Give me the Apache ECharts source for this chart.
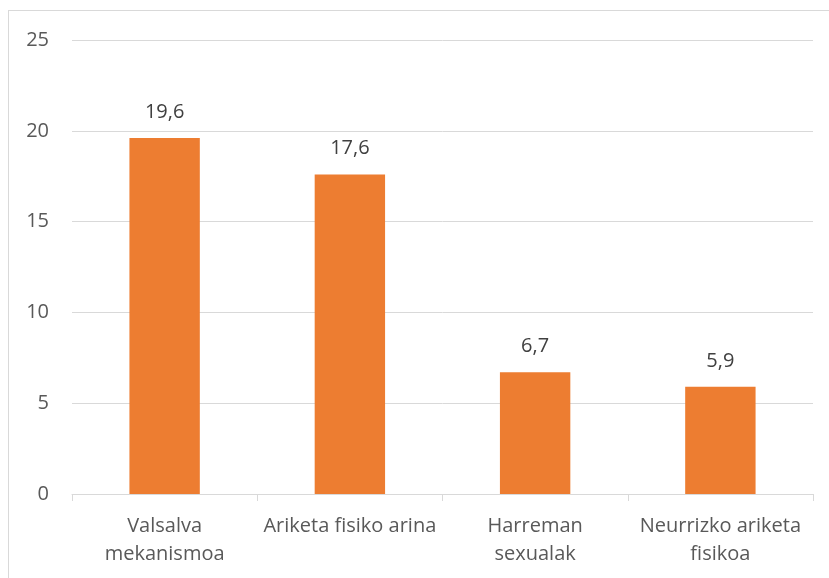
<!DOCTYPE html>
<html>
<head>
<meta charset="utf-8">
<script src="https://cdn.jsdelivr.net/npm/echarts@6/dist/echarts.min.js"></script>
<style>
  html, body { margin: 0; padding: 0; background: #fff; }
  #frame { position: absolute; left: 8px; top: 10px; width: 840px; height: 600px; border: 1px solid #d9d9d9; box-sizing: border-box; }
  #chart { position: absolute; left: 0; top: 0; width: 829px; height: 578px; }
</style>
</head>
<body>
<div id="frame"></div>
<div id="chart"></div>
<script>
// Categories (Basque) and their percentages
const categories = ['Valsalva\nmekanismoa', 'Ariketa fisiko arina', 'Harreman\nsexualak', 'Neurrizko ariketa\nfisikoa'];
const values = [19.6, 17.6, 6.7, 5.9];
const yTicks = [0, 5, 10, 15, 20, 25];

const chart = echarts.init(document.getElementById('chart'));
const font = 'Open Sans';
chart.setOption({
  animation: false,
  grid: { left: 72, right: 16, top: 40, bottom: 84, containLabel: false },
  xAxis: {
    type: 'category',
    data: categories,
    axisLine: { lineStyle: { color: '#d9d9d9', width: 1 } },
    axisTick: { show: true, length: 7, lineStyle: { color: '#d9d9d9' } },
    axisLabel: { color: '#595959', fontSize: 20, fontFamily: font, lineHeight: 28, margin: 18, interval: 0 }
  },
  yAxis: {
    type: 'value',
    min: yTicks[0],
    max: yTicks[yTicks.length - 1],
    interval: 5,
    axisLine: { show: false },
    axisTick: { show: false },
    splitLine: { lineStyle: { color: '#d9d9d9', width: 1 } },
    axisLabel: { color: '#595959', fontSize: 20, fontFamily: font, margin: 23 }
  },
  series: [{
    type: 'bar',
    data: values,
    barWidth: '38%',
    itemStyle: { color: '#ED7D31' },
    label: {
      show: true,
      position: 'top',
      distance: 16,
      color: '#404040',
      fontSize: 20,
      fontFamily: font,
      formatter: p => String(p.value).replace('.', ',')
    }
  }]
});
</script>
</body>
</html>
